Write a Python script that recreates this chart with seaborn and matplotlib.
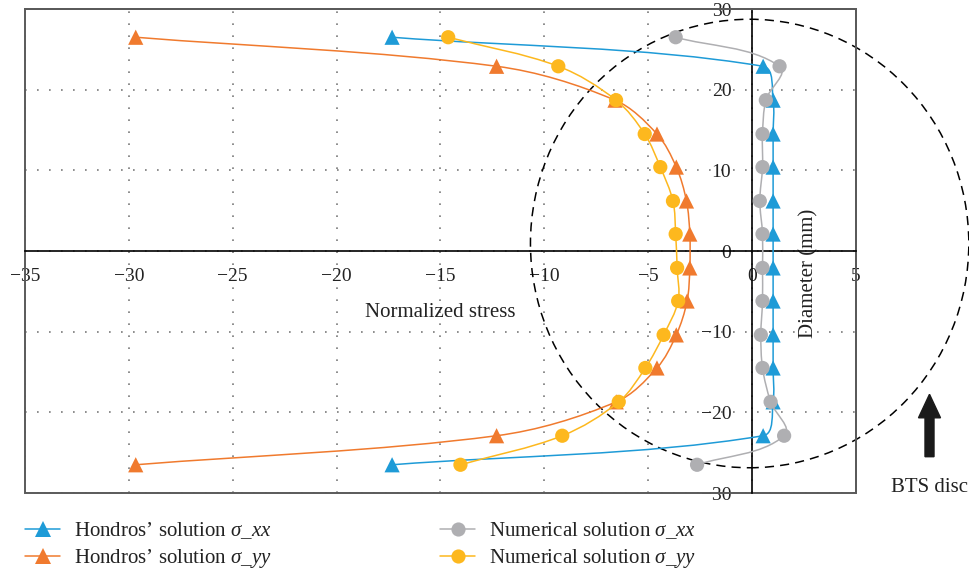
import numpy as np
import matplotlib
matplotlib.use("Agg")
import matplotlib.pyplot as plt
import seaborn as sns
from matplotlib.path import Path
from matplotlib.patches import PathPatch, Ellipse, FancyArrow, Rectangle
from matplotlib.lines import Line2D

# Position along the disc diameter (mm)
diameter_mm = [26.5, 22.9, 18.7, 14.5, 10.4, 6.2, 2.1, -2.1, -6.2, -10.4, -14.5, -18.7, -22.9, -26.5]

# Normalized stress along the loaded diameter
hondros_xx = [-17.33, 0.53, 1.01, 1.01, 1.01, 1.01, 1.01, 1.01, 1.01, 1.01, 1.01, 1.01, 0.53, -17.33]
hondros_yy = [-29.67, -12.3, -6.6, -4.58, -3.65, -3.16, -3.0, -3.0, -3.13, -3.65, -4.58, -6.54, -12.3, -29.67]
numerical_xx = [-3.68, 1.32, 0.66, 0.5, 0.5, 0.37, 0.5, 0.5, 0.5, 0.42, 0.5, 0.89, 1.54, -2.65]
numerical_yy = [-14.63, -9.33, -6.55, -5.17, -4.42, -3.81, -3.68, -3.61, -3.56, -4.26, -5.14, -6.42, -9.14, -14.04]

series_labels = [
    r"Hondros’ solution $\sigma\_xx$",
    r"Hondros’ solution $\sigma\_yy$",
    r"Numerical solution $\sigma\_xx$",
    r"Numerical solution $\sigma\_yy$",
]
series_values = [hondros_xx, hondros_yy, numerical_xx, numerical_yy]
series_colors = ["#1E9BD7", "#F07A2E", "#AFAFB2", "#FDB81E"]
series_markers = ["^", "^", "o", "o"]

x_ticks = [-35, -30, -25, -20, -15, -10, -5, 0, 5]
y_ticks = [-30, -20, -10, 0, 10, 20, 30]

sns.set_style("white")
plt.rcParams["font.family"] = ["Liberation Serif", "DejaVu Serif"]
plt.rcParams["mathtext.fontset"] = "custom"
plt.rcParams["mathtext.rm"] = "Liberation Serif"
plt.rcParams["mathtext.it"] = "Liberation Serif:italic"
plt.rcParams["axes.unicode_minus"] = True

fig = plt.figure(figsize=(9.7, 5.75), dpi=100)
ax = fig.add_axes([25 / 970, 1 - 493 / 575, 831 / 970, 484 / 575])
ax.set_xlim(-35, 5)
ax.set_ylim(-30, 30)


def smooth_path(ax, xs, ys):
    """Smoothed polyline through the points (cubic Bezier segments)."""
    pts = ax.transData.transform(np.column_stack([xs, ys]))
    n = len(pts)
    verts = [pts[0]]
    codes = [Path.MOVETO]
    for i in range(n - 1):
        p0, p1 = pts[i], pts[i + 1]
        seg = np.hypot(*(p1 - p0))
        t0 = pts[i + 1] - pts[i - 1] if i > 0 else p1 - p0
        t1 = pts[i + 2] - pts[i] if i + 2 < n else p1 - p0
        c0 = p0 + t0 / np.linalg.norm(t0) * seg / 3
        c1 = p1 - t1 / np.linalg.norm(t1) * seg / 3
        verts += [c0, c1, p1]
        codes += [Path.CURVE4] * 3
    verts = ax.transData.inverted().transform(np.array(verts))
    return Path(verts, codes)


# grid
ax.set_xticks(x_ticks)
ax.set_yticks(y_ticks)
ax.grid(True, color="#7a7a7a", linestyle=(0, (1, 6.2)), linewidth=1.2, zorder=0)

# BTS disc outline
ax.add_patch(Ellipse((-0.12, 0.93), 21.1, 55.6, fill=False, edgecolor="black",
                     linestyle=(0, (6, 4)), linewidth=1.1, clip_on=False, zorder=1.5))

# series
for k, (vals, col, mk) in enumerate(zip(series_values, series_colors, series_markers)):
    z = 3 + k
    ax.add_patch(PathPatch(smooth_path(ax, vals, diameter_mm), fill=False,
                           edgecolor=col, linewidth=1.1, zorder=z))
    sns.scatterplot(x=vals, y=diameter_mm, marker=mk, s=120 if mk == "^" else 105,
                    color=col, edgecolor="none", linewidth=0, ax=ax, zorder=z + 0.5,
                    legend=False)

# axes through the origin, outer frame kept as a box
for side in ["top", "right"]:
    ax.spines[side].set_color("#5a5a5a")
    ax.spines[side].set_linewidth(1.4)
ax.spines["bottom"].set_position(("data", 0))
ax.spines["left"].set_position(("data", 0))
for side in ["bottom", "left"]:
    ax.spines[side].set_color("black")
    ax.spines[side].set_linewidth(1.2)
    ax.spines[side].set_zorder(2.5)
ax.add_patch(Rectangle((0, 0), 1, 1, transform=ax.transAxes, fill=False,
                       edgecolor="#5a5a5a", linewidth=1.4, clip_on=False, zorder=2.4))

ax.tick_params(axis="both", length=0, labelsize=14, colors="#222222")
ax.tick_params(axis="x", pad=12)
ax.tick_params(axis="y", pad=15)

ax.set_xlabel("Normalized stress", fontsize=15, color="#222222", va="center")
ax.xaxis.set_label_coords(0.4994, 0.372)
ax.set_ylabel("Diameter (mm)", fontsize=15, color="#222222", va="center", ha="center",
              rotation_mode="default")
ax.yaxis.set_label_coords(0.943, 0.4535)

# loading arrow and caption
dpi_tr = fig.dpi_scale_trans
fig.add_artist(FancyArrow(929.5 / 100, (575 - 456.7) / 100, 0, (456.7 - 394.3) / 100,
                          width=0.09, head_width=0.22, head_length=0.235,
                          length_includes_head=True, color="#1a1a1a", transform=dpi_tr))
fig.text(930 / 970, 1 - 488 / 575, "BTS disc", ha="center", va="center", fontsize=15,
         color="#222222")

# legend in two columns below the chart
handles = [Line2D([0], [0], color=c, marker=m, markersize=11 if m == "^" else 10.2,
                  markeredgewidth=0, linewidth=1.1)
           for c, m in zip(series_colors, series_markers)]
leg_kw = dict(loc="upper left", frameon=False, borderpad=0, borderaxespad=0,
              handlelength=1.7, handletextpad=0.65, labelspacing=0.32, fontsize=15,
              labelcolor="#222222")
fig.legend(handles[:2], series_labels[:2], bbox_to_anchor=(25 / 970, 1 - 520 / 575), **leg_kw)
fig.legend(handles[2:], series_labels[2:], bbox_to_anchor=(440 / 970, 1 - 520 / 575), **leg_kw)

fig.savefig("out.png", dpi=100)
